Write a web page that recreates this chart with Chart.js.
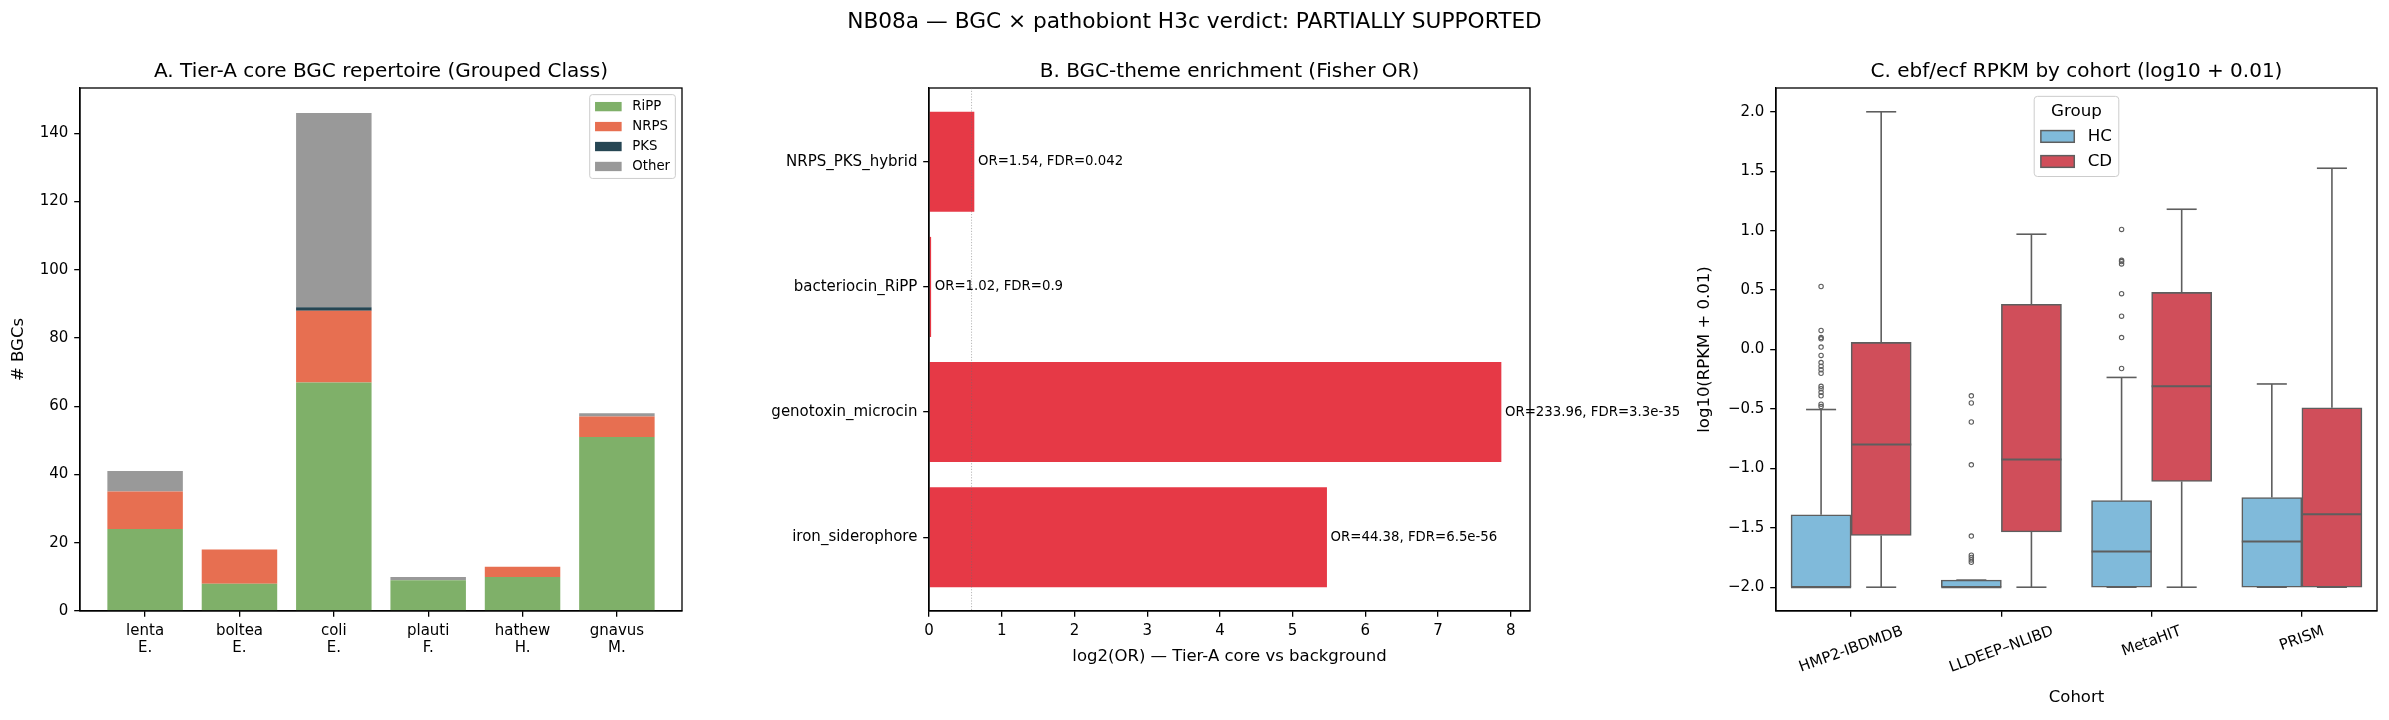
<!DOCTYPE html>
<html>
<head>
<meta charset="utf-8">
<script src="https://cdn.jsdelivr.net/npm/chart.js@4.4.1/dist/chart.umd.min.js"></script>
<style>
html,body{margin:0;padding:0;background:#fff;}
#wrap{position:relative;width:2389px;height:720px;overflow:hidden;background:#fff;}
#wrap canvas{position:absolute;left:0;top:0;}
#sup{position:absolute;left:0;top:10px;width:2389px;text-align:center;font-family:"DejaVu Sans",sans-serif;font-size:21.7px;line-height:22px;color:#000;white-space:nowrap;}
</style>
</head>
<body>
<div id="wrap">
  <canvas id="cA" width="2389" height="720"></canvas>
  <canvas id="cB" width="2389" height="720"></canvas>
  <canvas id="cC" width="2389" height="720"></canvas>
  <div id="sup">NB08a — BGC × pathobiont H3c verdict: PARTIALLY SUPPORTED</div>
</div>
<script>
// ---------------- Panel A data ----------------
const speciesLine1 = ['lenta', 'boltea', 'coli', 'plauti', 'hathew', 'gnavus'];
const speciesLine2 = ['E.', 'E.', 'E.', 'F.', 'H.', 'M.'];
const rippCounts  = [24, 8, 67, 9, 10, 51];
const nrpsCounts  = [11, 10, 21, 0, 3, 6];
const pksCounts   = [0, 0, 1, 0, 0, 0];
const otherCounts = [6, 0, 57, 1, 0, 1];
const classNames  = ['RiPP', 'NRPS', 'PKS', 'Other'];
const classColors = ['#7fb069', '#e76f51', '#264653', '#999999'];
const yTicksA = [0, 20, 40, 60, 80, 100, 120, 140];

// ---------------- Panel B data ----------------
const themes  = ['iron_siderophore', 'genotoxin_microcin', 'bacteriocin_RiPP', 'NRPS_PKS_hybrid'];
const log2OR  = [5.472, 7.870, 0.029, 0.623];
const orText  = ['44.38', '233.96', '1.02', '1.54'];
const fdrText = ['6.5e-56', '3.3e-35', '0.9', '0.042'];
const xTicksB = [0, 1, 2, 3, 4, 5, 6, 7, 8];
const orThreshold = 0.585;

// ---------------- Panel C data ----------------
const cohorts = ['HMP2-IBDMDB', 'LLDEEP\u2013NLIBD', 'MetaHIT', 'PRISM'];
const hcQ1  = [-2.0, -2.0, -2.0, -2.0];
const hcMed = [-2.0, -2.0, -1.70, -1.615];
const hcQ3  = [-1.39, -1.94, -1.27, -1.245];
const hcLo  = [-2.0, -2.0, -2.0, -2.0];
const hcHi  = [-0.505, -1.94, -0.235, -0.29];
const cdQ1  = [-1.565, -1.535, -1.11, -2.0];
const cdMed = [-0.80, -0.925, -0.31, -1.385];
const cdQ3  = [0.06, 0.38, 0.48, -0.49];
const cdLo  = [-2.0, -2.0, -2.0, -2.0];
const cdHi  = [2.0, 0.97, 1.18, 1.525];
const hcOutliers = [
  [0.53, 0.16, 0.10, 0.09, 0.02, -0.05, -0.11, -0.14, -0.17, -0.20, -0.31, -0.33, -0.36, -0.39, -0.46, -0.48],
  [-0.39, -0.45, -0.61, -0.97, -1.57, -1.73, -1.75, -1.77, -1.79],
  [1.01, 0.75, 0.74, 0.72, 0.47, 0.28, 0.10, -0.16],
  []
];
const cdOutliers = [[], [], [], []];
const yTicksC = [-2.0, -1.5, -1.0, -0.5, 0.0, 0.5, 1.0, 1.5, 2.0];
const groupNames = ['HC', 'CD'];
const groupColors = ['#80bada', '#d04e5a'];
const boxEdge = '#5e5e5e';

// ---------------- common ----------------
const FAM = '"DejaVu Sans", sans-serif';
Chart.defaults.font.family = FAM;
Chart.defaults.color = '#000';
Chart.defaults.animation = false;

const TICK_FS = 15, LABEL_FS = 16.5, TITLE_FS = 20;
const W = 2389, H = 720, TOP = 88, BOT = 611;
const DODGE = 0.2;   // seaborn hue offset (layout), box width 0.4

function gridOpts() {
  return { drawOnChartArea: false, drawTicks: true, tickLength: 5.8, color: '#000', tickColor: '#000', lineWidth: 1.3, tickWidth: 1.3, offset: false };
}
function borderOpts() { return { display: true, color: '#000', width: 1.3 }; }
function titleOpts(text) {
  return { display: true, text: text, color: '#000', font: { size: TITLE_FS, weight: 'normal', lineHeight: 1.2 }, padding: { top: 0, bottom: 4 }, fullSize: false };
}

const framePlugin = {
  id: 'frame',
  afterDatasetsDraw(chart) {
    const a = chart.chartArea, c = chart.ctx;
    c.save();
    c.strokeStyle = '#000'; c.lineWidth = 1.3;
    c.strokeRect(a.left, a.top, a.right - a.left, a.bottom - a.top);
    c.restore();
  }
};

function drawLegend(ctx, o) {
  const fs = o.fs, pad = 0.4 * fs, sep = 0.5 * fs, hl = 2 * fs, hh = 0.7 * fs, htp = 0.8 * fs;
  ctx.save();
  ctx.font = fs + 'px ' + FAM;
  let tw = 0;
  o.items.forEach(it => { tw = Math.max(tw, ctx.measureText(it.label).width); });
  const titleW = o.title ? ctx.measureText(o.title).width : 0;
  const innerW = Math.max(hl + htp + tw, titleW);
  const w = 2 * pad + innerW;
  const n = o.items.length;
  const h = 2 * pad + (o.title ? fs + sep : 0) + n * fs + (n - 1) * sep;
  const left = (o.right !== undefined) ? o.right - w : o.cx - w / 2;
  const top = o.top;
  ctx.beginPath();
  ctx.roundRect(left, top, w, h, 0.2 * fs);
  ctx.fillStyle = 'rgba(255,255,255,0.8)';
  ctx.fill();
  ctx.strokeStyle = '#cccccc'; ctx.lineWidth = 1;
  ctx.stroke();
  ctx.fillStyle = '#000';
  ctx.textBaseline = 'middle';
  let y0 = top + pad;
  if (o.title) {
    ctx.textAlign = 'center';
    ctx.fillText(o.title, left + w / 2, y0 + fs / 2);
    y0 += fs + sep;
  }
  ctx.textAlign = 'left';
  o.items.forEach((it, k) => {
    const cy = y0 + k * (fs + sep) + fs / 2;
    ctx.fillStyle = it.fill;
    ctx.fillRect(left + pad, cy - hh / 2, hl, hh);
    if (it.stroke) {
      ctx.strokeStyle = it.stroke; ctx.lineWidth = 1.5;
      ctx.strokeRect(left + pad, cy - hh / 2, hl, hh);
    }
    ctx.fillStyle = '#000';
    ctx.fillText(it.label, left + pad + hl + htp, cy);
  });
  ctx.restore();
}

// ---------------- Panel A ----------------
const seriesA = [rippCounts, nrpsCounts, pksCounts, otherCounts];
const legendA = {
  id: 'legendA',
  afterDraw(chart) {
    const a = chart.chartArea, fs = 13.3;
    drawLegend(chart.ctx, { fs: fs, right: a.right - 0.5 * fs, top: a.top + 0.5 * fs,
      items: classNames.map((n, k) => ({ label: n, fill: classColors[k] })) });
  }
};
new Chart(document.getElementById('cA'), {
  type: 'bar',
  data: {
    datasets: classNames.map((n, k) => ({
      label: n,
      data: seriesA[k].map((v, i) => ({ x: i, y: v })),
      backgroundColor: classColors[k],
      borderWidth: 0,
      barPercentage: 0.8,
      categoryPercentage: 1.0
    }))
  },
  options: {
    responsive: false, animation: false, devicePixelRatio: 1,
    layout: { padding: { left: 0, right: W - 682, top: TOP - TITLE_FS * 1.2 - 4, bottom: 0 } },
    plugins: { legend: { display: false }, tooltip: { enabled: false }, title: titleOpts('A. Tier-A core BGC repertoire (Grouped Class)') },
    scales: {
      x: {
        type: 'linear', stacked: true, offset: false, min: -0.69, max: 5.69,
        afterBuildTicks: s => { s.ticks = speciesLine1.map((_, i) => ({ value: i })); },
        ticks: { callback: v => [speciesLine1[v], speciesLine2[v]], font: { size: TICK_FS, lineHeight: 1.12 }, padding: 5.8, maxRotation: 0, minRotation: 0, autoSkip: false },
        grid: gridOpts(), border: borderOpts(),
        afterFit: s => { s.height = H - BOT; }
      },
      y: {
        type: 'linear', stacked: true, min: 0, max: 153.3,
        afterBuildTicks: s => { s.ticks = yTicksA.map(v => ({ value: v })); },
        ticks: { callback: v => String(v), font: { size: TICK_FS }, padding: 5.8 },
        grid: gridOpts(), border: borderOpts(),
        title: { display: true, text: '# BGCs', color: '#000', font: { size: LABEL_FS, lineHeight: 1.2 }, padding: { top: 9, bottom: 0 } },
        afterFit: s => { s.width = 80; }
      }
    }
  },
  plugins: [framePlugin, legendA]
});

// ---------------- Panel B ----------------
const annotB = {
  id: 'annotB',
  afterDatasetsDraw(chart) {
    const xs = chart.scales.x, ys = chart.scales.y, c = chart.ctx, a = chart.chartArea;
    c.save();
    const tx = xs.getPixelForValue(orThreshold);
    c.strokeStyle = 'rgba(110,110,110,0.6)'; c.lineWidth = 0.8; c.setLineDash([1.2, 1.6]);
    c.beginPath(); c.moveTo(tx, a.top); c.lineTo(tx, a.bottom); c.stroke();
    c.setLineDash([]);
    c.font = '13.3px ' + FAM; c.fillStyle = '#000'; c.textBaseline = 'middle'; c.textAlign = 'left';
    themes.forEach((t, i) => {
      c.fillText('OR=' + orText[i] + ', FDR=' + fdrText[i], xs.getPixelForValue(log2OR[i] + 0.05), ys.getPixelForValue(i));
    });
    c.restore();
  }
};
new Chart(document.getElementById('cB'), {
  type: 'bar',
  data: {
    datasets: [{
      label: 'log2OR',
      data: themes.map((t, i) => ({ y: i, x: log2OR[i] })),
      backgroundColor: '#e63946',
      borderWidth: 0,
      barPercentage: 0.8,
      categoryPercentage: 1.0
    }]
  },
  options: {
    indexAxis: 'y',
    responsive: false, animation: false, devicePixelRatio: 1,
    layout: { padding: { left: 0, right: W - 1530, top: TOP - TITLE_FS * 1.2 - 4, bottom: 0 } },
    plugins: { legend: { display: false }, tooltip: { enabled: false }, title: titleOpts('B. BGC-theme enrichment (Fisher OR)') },
    scales: {
      x: {
        type: 'linear', offset: false, min: 0, max: 8.264,
        afterBuildTicks: s => { s.ticks = xTicksB.map(v => ({ value: v })); },
        ticks: { callback: v => String(v), font: { size: TICK_FS }, padding: 5.8, maxRotation: 0, autoSkip: false },
        grid: gridOpts(), border: borderOpts(),
        title: { display: true, text: 'log2(OR) \u2014 Tier-A core vs background', color: '#000', font: { size: LABEL_FS, lineHeight: 1.2 }, padding: { top: 0, bottom: 53 } },
        afterFit: s => { s.height = H - BOT; }
      },
      y: {
        type: 'linear', offset: false, min: -0.59, max: 3.59,
        afterBuildTicks: s => { s.ticks = themes.map((_, i) => ({ value: i })); },
        ticks: { callback: v => themes[v], font: { size: TICK_FS }, padding: 5.8, autoSkip: false },
        grid: gridOpts(), border: borderOpts(),
        afterFit: s => { s.width = 929; }
      }
    }
  },
  plugins: [framePlugin, annotB]
});

// ---------------- Panel C ----------------
const groupsC = [
  { q1: hcQ1, med: hcMed, q3: hcQ3, lo: hcLo, hi: hcHi },
  { q1: cdQ1, med: cdMed, q3: cdQ3, lo: cdLo, hi: cdHi }
];
const boxPlugin = {
  id: 'boxParts',
  afterDatasetsDraw(chart) {
    const ys = chart.scales.y, c = chart.ctx, a = chart.chartArea;
    c.save();
    c.beginPath(); c.rect(a.left, a.top, a.right - a.left, a.bottom - a.top); c.clip();
    c.strokeStyle = boxEdge; c.lineWidth = 1.6; c.lineCap = 'butt';
    const seg = (x1, y1, x2, y2) => { c.beginPath(); c.moveTo(x1, y1); c.lineTo(x2, y2); c.stroke(); };
    groupsC.forEach((g, d) => {
      const meta = chart.getDatasetMeta(d);
      meta.data.forEach((el, i) => {
        const x = el.x, hw = el.width / 2, cw = el.width / 4;
        const yq1 = ys.getPixelForValue(g.q1[i]), yq3 = ys.getPixelForValue(g.q3[i]);
        const ylo = ys.getPixelForValue(g.lo[i]), yhi = ys.getPixelForValue(g.hi[i]);
        const ymed = ys.getPixelForValue(g.med[i]);
        seg(x, yq3, x, yhi); seg(x - cw, yhi, x + cw, yhi);
        seg(x, yq1, x, ylo); seg(x - cw, ylo, x + cw, ylo);
        c.lineWidth = 2; seg(x - hw, ymed, x + hw, ymed); c.lineWidth = 1.6;
      });
    });
    c.restore();
  }
};
const xLabelsC = {
  id: 'xLabelsC',
  afterDraw(chart) {
    const xs = chart.scales.x, c = chart.ctx;
    c.save();
    c.font = TICK_FS + 'px ' + FAM; c.fillStyle = '#000';
    c.textAlign = 'center'; c.textBaseline = 'middle';
    const ang = 20 * Math.PI / 180, th = TICK_FS * 1.17;
    cohorts.forEach((lab, i) => {
      const px = xs.getPixelForValue(i);
      const w = c.measureText(lab).width;
      const bh = w * Math.sin(ang) + th * Math.cos(ang);
      const cy = BOT + 5.8 + 5.8 + bh / 2;
      c.save(); c.translate(px, cy); c.rotate(-ang); c.fillText(lab, 0, 0); c.restore();
    });
    c.restore();
  }
};
const legendC = {
  id: 'legendC',
  afterDraw(chart) {
    const a = chart.chartArea, fs = 16.7;
    drawLegend(chart.ctx, { fs: fs, cx: (a.left + a.right) / 2, top: a.top + 0.5 * fs, title: 'Group',
      items: groupNames.map((n, k) => ({ label: n, fill: groupColors[k], stroke: boxEdge })) });
  }
};
const outlierPoints = [];
hcOutliers.forEach((arr, i) => arr.forEach(v => outlierPoints.push({ x: i - DODGE, y: v })));
cdOutliers.forEach((arr, i) => arr.forEach(v => outlierPoints.push({ x: i + DODGE, y: v })));

function boxDataset(k, q1, q3, off) {
  return {
    label: groupNames[k],
    data: cohorts.map((_, i) => ({ x: i + off, y: [q1[i], q3[i]] })),
    backgroundColor: groupColors[k], borderColor: boxEdge, borderWidth: 1.6, borderSkipped: false,
    grouped: false, barPercentage: 1.0, categoryPercentage: 1.0
  };
}

new Chart(document.getElementById('cC'), {
  type: 'bar',
  data: {
    datasets: [
      boxDataset(0, hcQ1, hcQ3, -DODGE),
      boxDataset(1, cdQ1, cdQ3, DODGE),
      { type: 'scatter', label: 'outliers', data: outlierPoints, pointRadius: 2.2, pointBorderWidth: 1.1, pointBorderColor: boxEdge, pointBackgroundColor: 'rgba(255,255,255,0)', showLine: false }
    ]
  },
  options: {
    responsive: false, animation: false, devicePixelRatio: 1,
    layout: { padding: { left: 1600, right: W - 2377, top: TOP - TITLE_FS * 1.2 - 4, bottom: 0 } },
    plugins: { legend: { display: false }, tooltip: { enabled: false }, title: titleOpts('C. ebf/ecf RPKM by cohort (log10 + 0.01)') },
    scales: {
      x: {
        type: 'linear', offset: false, min: -0.5, max: 3.5,
        afterBuildTicks: s => { s.ticks = cohorts.map((_, i) => ({ value: i })); },
        ticks: { display: false },
        grid: gridOpts(), border: borderOpts(),
        title: { display: true, text: 'Cohort', color: '#000', font: { size: LABEL_FS, lineHeight: 1.2 }, padding: { top: 0, bottom: 12 } },
        afterFit: s => { s.height = H - BOT; }
      },
      y: {
        type: 'linear', min: -2.2, max: 2.2,
        afterBuildTicks: s => { s.ticks = yTicksC.map(v => ({ value: v })); },
        ticks: { callback: v => (v < 0 ? '\u2212' : '') + Math.abs(v).toFixed(1), font: { size: TICK_FS }, padding: 5.8, autoSkip: false },
        grid: gridOpts(), border: borderOpts(),
        title: { display: true, text: 'log10(RPKM + 0.01)', color: '#000', font: { size: LABEL_FS, lineHeight: 1.2 }, padding: { top: 95, bottom: 0 } },
        afterFit: s => { s.width = 176; }
      }
    }
  },
  plugins: [framePlugin, boxPlugin, xLabelsC, legendC]
});
</script>
</body>
</html>
